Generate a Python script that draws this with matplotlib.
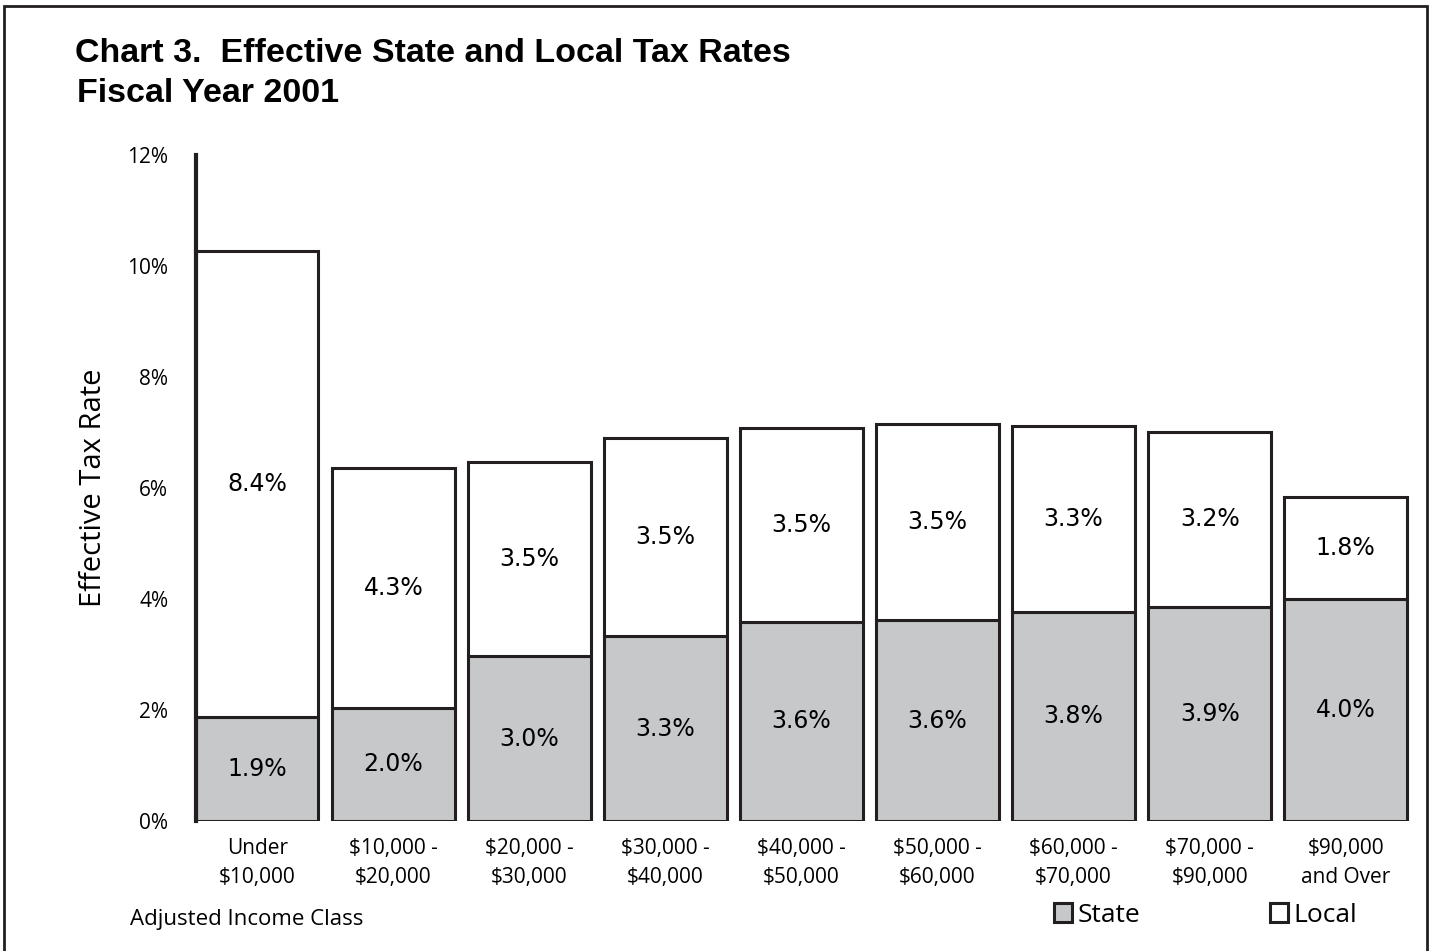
import numpy as np
import matplotlib.pyplot as plt

# income classes and tax rates (percent)
classes = ['Under\n$10,000', '$10,000 -\n$20,000', '$20,000 -\n$30,000',
           '$30,000 -\n$40,000', '$40,000 -\n$50,000', '$50,000 -\n$60,000',
           '$60,000 -\n$70,000', '$70,000 -\n$90,000', '$90,000\nand Over']
state = [1.87, 2.04, 2.97, 3.33, 3.59, 3.62, 3.77, 3.86, 4.0]
local = [8.4, 4.32, 3.5, 3.57, 3.49, 3.53, 3.35, 3.15, 1.84]
state_lbl = ['1.9%', '2.0%', '3.0%', '3.3%', '3.6%', '3.6%', '3.8%', '3.9%', '4.0%']
local_lbl = ['8.4%', '4.3%', '3.5%', '3.5%', '3.5%', '3.5%', '3.3%', '3.2%', '1.8%']
yticks = [0, 2, 4, 6, 8, 10, 12]

plt.rcParams['font.family'] = ['Open Sans', 'DejaVu Sans']

fig = plt.figure(figsize=(14.3, 9.51), dpi=100)
ax = fig.add_axes([196 / 1430, 1 - 821 / 951, 1215 / 1430, 666 / 951])

x = np.arange(len(classes))
s_bars = ax.bar(x, state, width=0.9, color='#c6c8ca', edgecolor='#231f20',
                linewidth=2.2, label='State')
l_bars = ax.bar(x, local, width=0.9, bottom=state, color='white',
                edgecolor='#231f20', linewidth=2.2, label='Local')

for i in range(len(x)):
    ax.text(x[i], state[i] / 2, state_lbl[i], ha='center', va='center',
            fontsize=17, family='DejaVu Sans')
    ax.text(x[i], state[i] + local[i] / 2, local_lbl[i], ha='center', va='center',
            fontsize=17, family='DejaVu Sans')

ax.set_xlim(-0.45, 8.48)
ax.set_ylim(0, 12)
ax.set_yticks(yticks)
ax.set_yticklabels(['%d%%' % t for t in yticks], fontsize=15)
ax.set_xticks(x)
ax.set_xticklabels(classes, fontsize=15, linespacing=1.55)
ax.tick_params(length=0)
ax.tick_params(axis='y', pad=20)
ax.tick_params(axis='x', pad=12)
for side in ['top', 'right', 'bottom']:
    ax.spines[side].set_visible(False)
ax.spines['left'].set_linewidth(3)
ax.spines['left'].set_color('#231f20')

ax.set_ylabel('Effective Tax Rate', fontsize=21, labelpad=14)

fig.text(75 / 1430, 1 - 53 / 951, 'Chart 3.  Effective State and Local Tax Rates',
         fontsize=24.5, fontweight='bold', family='Liberation Sans', va='center')
fig.text(77 / 1430, 1 - 94 / 951, 'Fiscal Year 2001',
         fontsize=24.5, fontweight='bold', family='Liberation Sans', va='center')
fig.text(130 / 1430, 1 - 919 / 951, 'Adjusted Income Class', fontsize=16, va='center')

fig.legend(handles=[s_bars, l_bars], labels=['State', 'Local'], ncol=2,
           loc='center left', bbox_to_anchor=(1030 / 1430, 1 - 915 / 951),
           frameon=False, fontsize=19, handlelength=0.7, handleheight=0.7,
           handletextpad=0.2, columnspacing=4.9)

# outer frame
fig.patches.append(plt.Rectangle((4 / 1430, -0.01), 1423 / 1430, 1 - 6 / 951 + 0.01,
                                 transform=fig.transFigure, fill=False,
                                 edgecolor='#231f20', linewidth=2))

fig.savefig('out.png', dpi=100)
